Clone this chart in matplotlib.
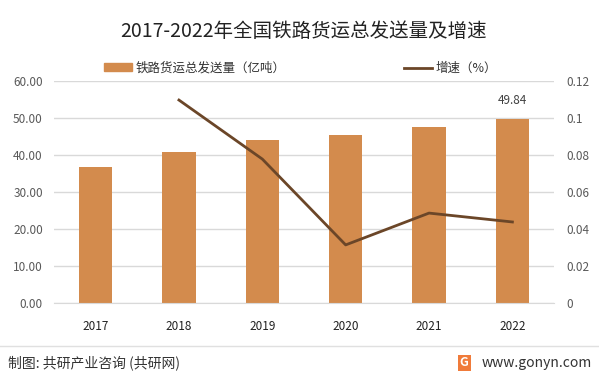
import matplotlib
matplotlib.use('Agg')
import matplotlib.pyplot as plt
from matplotlib.lines import Line2D
from matplotlib.patches import Patch

plt.rcParams['font.family'] = ['Noto Sans CJK SC', 'DejaVu Sans']

# data
years = ['2017', '2018', '2019', '2020', '2021', '2022']
volume = [36.8, 40.8, 44.05, 45.4, 47.6, 49.84]     # 亿吨
growth_years = ['2018', '2019', '2020', '2021', '2022']
growth = [0.1097, 0.0778, 0.0314, 0.0486, 0.0438]
left_ticks = [0, 10, 20, 30, 40, 50, 60]
left_labels = ['0.00', '10.00', '20.00', '30.00', '40.00', '50.00', '60.00']
right_ticks = [0, 0.02, 0.04, 0.06, 0.08, 0.1, 0.12]
right_labels = ['0', '0.02', '0.04', '0.06', '0.08', '0.1', '0.12']

BAR_C = '#D38B4D'
LINE_C = '#6B4628'
TXT_C = '#595959'

fig = plt.figure(figsize=(5.99, 3.75), dpi=100)
ax = fig.add_axes([0.090, 0.192, 0.835, 0.592])
x = list(range(len(years)))
ax.bar(x, volume, width=0.4, color=BAR_C, zorder=2)
ax.set_xlim(-0.5, len(years) - 0.5)
ax.set_ylim(0, 60)
ax.set_yticks(left_ticks)
ax.set_yticklabels(left_labels)
ax.set_xticks(x)
ax.set_xticklabels(years)
ax.yaxis.grid(True, color='#D9D9D9', linewidth=1, zorder=0)
ax.set_axisbelow(True)
for s in ax.spines.values():
    s.set_visible(False)
ax.spines['bottom'].set_visible(True)
ax.spines['bottom'].set_color('#D9D9D9')
ax.tick_params(axis='both', length=0, labelsize=8.5, colors=TXT_C)
ax.tick_params(axis='x', colors='#222222', pad=12)
ax.tick_params(axis='y', pad=8)

ax.annotate(f'{volume[-1]:.2f}', (x[-1], volume[-1]), xytext=(0, 8),
            textcoords='offset points', ha='center', va='bottom',
            fontsize=8.5, color='#404040')

ax2 = ax.twinx()
gx = [years.index(y) for y in growth_years]
ax2.plot(gx, growth, color=LINE_C, linewidth=2, zorder=3)
ax2.set_ylim(0, 0.12)
ax2.set_yticks(right_ticks)
ax2.set_yticklabels(right_labels)
for s in ax2.spines.values():
    s.set_visible(False)
ax2.tick_params(axis='y', length=0, labelsize=8.5, colors=TXT_C, pad=9)

fig.text(0.507, 0.915, '2017-2022年全国铁路货运总发送量及增速', ha='center', va='center',
         fontsize=14, color='#222222')

handles = [Patch(color=BAR_C), Line2D([], [], color=LINE_C, linewidth=2)]
leg = fig.legend(handles, ['铁路货运总发送量（亿吨）', '增速（%）'], loc='center',
                 bbox_to_anchor=(0.502, 0.818), ncol=2, frameon=False, fontsize=9,
                 handlelength=2.2, handleheight=0.6, columnspacing=9.5, handletextpad=0.3)
for t in leg.get_texts():
    t.set_color('#333333')

fig.add_artist(Line2D([0.0, 1.0], [0.077, 0.077], transform=fig.transFigure,
                      color='#E0E0E0', linewidth=1))
fig.text(0.013, 0.032, '制图: 共研产业咨询 (共研网)', ha='left', va='center',
         fontsize=10, color='#333333')
fig.text(0.988, 0.032, 'www.gonyn.com', ha='right', va='center',
         fontsize=10, color='#333333')
fig.text(0.775, 0.032, 'G', ha='center', va='center', fontsize=9, color='white',
         fontweight='bold',
         bbox=dict(boxstyle='square,pad=0.15', facecolor='#F07B3A', edgecolor='none'))

fig.savefig('out.png', dpi=100)
